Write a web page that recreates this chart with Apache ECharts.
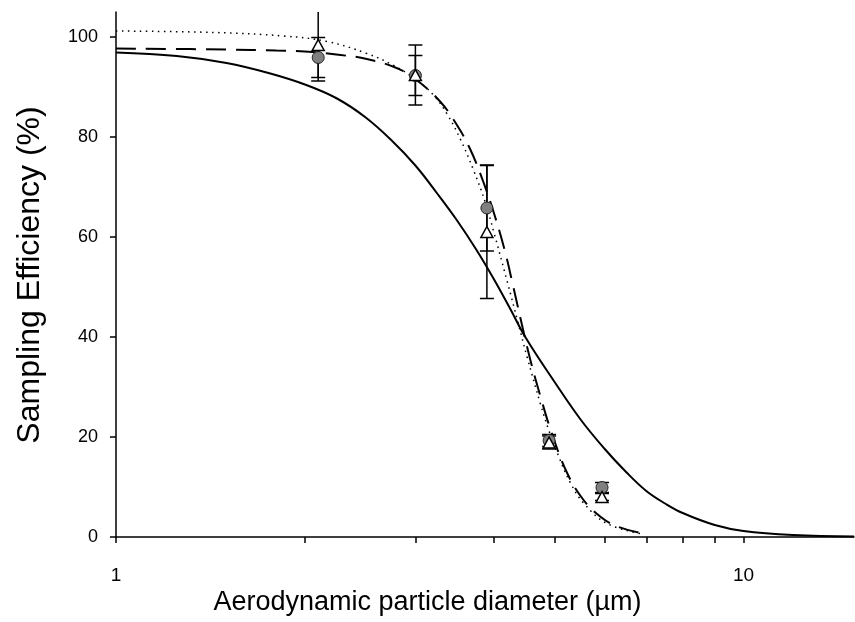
<!DOCTYPE html>
<html>
<head>
<meta charset="utf-8">
<script src="https://cdn.jsdelivr.net/npm/echarts@6/dist/echarts.min.js"></script>
<style>html,body{margin:0;padding:0;background:#fff}#c{width:855px;height:622px}</style>
</head>
<body>
<div id="c"></div>
<script>
// Measured particle diameters (µm)
var diameters = [2.1, 3.0, 3.9, 4.9, 5.95];
// Series A (grey circles)
var circleValues = [95.9, 92.3, 65.8, 19.3, 9.9];
var circleErrors = [4.0, 4.0, 8.6, 1.2, 1.0];
// Series B (open triangles)
var triangleValues = [98.4, 92.4, 61.0, 18.9, 8.0];
var triangleErrors = [7.2, 6.0, 13.3, 1.3, 0.7];

// Fitted curves: [diameter, efficiency]
var solidCurve = [[1.0, 96.9], [1.25, 96.2], [1.5, 94.8], [1.75, 92.8], [2.0, 90.5], [2.25, 87.7], [2.5, 83.9], [2.75, 79.3], [3.0, 74.3], [3.25, 68.7], [3.5, 63.2], [3.75, 57.5], [4.0, 51.6], [4.25, 45.6], [4.5, 39.8], [5.0, 31.0], [5.5, 23.5], [6.0, 17.7], [6.5, 13.0], [7.0, 9.2], [7.5, 6.7], [8.0, 4.8], [9.0, 2.4], [10.0, 1.2], [12.0, 0.4], [15.0, 0.1]];
var dashedCurve = [[1.0, 97.7], [1.5, 97.5], [1.8, 97.3], [2.0, 97.1], [2.28, 96.4], [2.51, 95.6], [2.80, 93.8], [3.02, 91.3], [3.29, 87.0], [3.49, 82.5], [3.67, 77.5], [3.85, 71.0], [4.02, 64.0], [4.17, 57.0], [4.28, 51.0], [4.41, 43.8], [4.57, 35.6], [4.75, 28.0], [4.95, 20.7], [5.24, 12.7], [5.56, 7.4], [5.91, 4.1], [6.29, 2.1], [6.93, 0.7]];
var dottedCurve = [[1.0, 101.2], [1.44, 100.9], [1.85, 100.2], [2.17, 99.1], [2.51, 96.7], [2.77, 94.3], [3.02, 91.3], [3.21, 88.3], [3.37, 84.6], [3.54, 79.5], [3.71, 73.5], [3.88, 66.8], [4.00, 61.0], [4.20, 51.2], [4.38, 42.5], [4.52, 36.0], [4.75, 26.5], [4.89, 21.5], [5.08, 16.0], [5.30, 10.8], [5.56, 6.8], [6.06, 2.7], [6.85, 0.7]];

var xTicks = [1, 2, 3, 4, 5, 6, 7, 8, 9, 10];
var xLabels = [1, 10];
var yTicks = [0, 20, 40, 60, 80, 100];

function errData(vals, errs) {
  return diameters.map(function (d, i) { return [d, vals[i], errs[i]]; });
}
function errRender(params, api) {
  var x = api.value(0), y = api.value(1), e = api.value(2);
  var top = api.coord([x, y + e]);
  var bot = api.coord([x, y - e]);
  var hw = 7;
  var st = { stroke: '#000', lineWidth: 1.5 };
  return {
    type: 'group',
    children: [
      { type: 'line', shape: { x1: top[0], y1: top[1], x2: bot[0], y2: bot[1] }, style: st },
      { type: 'line', shape: { x1: top[0] - hw, y1: top[1], x2: top[0] + hw, y2: top[1] }, style: st },
      { type: 'line', shape: { x1: bot[0] - hw, y1: bot[1], x2: bot[0] + hw, y2: bot[1] }, style: st }
    ]
  };
}

var font = 'Liberation Sans, Arial, sans-serif';
var chart = echarts.init(document.getElementById('c'), null, { renderer: 'canvas' });
chart.setOption({
  animation: false,
  backgroundColor: '#fff',
  grid: { left: 116, right: 1, top: 12, bottom: 85, containLabel: false },
  xAxis: {
    type: 'log', logBase: 10, min: 1, max: 15,
    axisLine: { show: true, lineStyle: { color: '#000', width: 1.5 } },
    axisTick: { show: true, inside: false, length: 6, customValues: xTicks, lineStyle: { color: '#000', width: 1.5 } },
    axisLabel: { customValues: xLabels, color: '#000', fontSize: 19, fontFamily: font, margin: 29 },
    splitLine: { show: false }, minorTick: { show: false }
  },
  yAxis: {
    type: 'value', min: 0, max: 105,
    axisLine: { show: true, lineStyle: { color: '#000', width: 1.5 } },
    axisTick: { show: true, inside: false, length: 6, customValues: yTicks, lineStyle: { color: '#000', width: 1.5 } },
    axisLabel: { customValues: yTicks, color: '#000', fontSize: 18, fontFamily: font, margin: 18 },
    splitLine: { show: false }
  },
  graphic: [
    { type: 'text', left: 'center', top: 589, style: { text: 'Aerodynamic particle diameter (µm)', fill: '#000', font: '27px ' + font } },
    { type: 'text', x: 14, y: 275, rotation: Math.PI / 2, style: { text: 'Sampling Efficiency (%)', fill: '#000', font: '32px ' + font, align: 'center', verticalAlign: 'top' } }
  ],
  series: [
    { type: 'line', data: solidCurve, smooth: 0.4, showSymbol: false, lineStyle: { color: '#000', width: 2 }, z: 2 },
    { type: 'line', data: dashedCurve, smooth: 0.4, showSymbol: false, lineStyle: { color: '#000', width: 2, type: [20, 10] }, z: 2 },
    { type: 'line', data: dottedCurve, smooth: 0.4, showSymbol: false, lineStyle: { color: '#000', width: 1.5, type: [1.5, 4.5] }, z: 2 },
    { type: 'custom', data: errData(circleValues, circleErrors), renderItem: errRender, clip: true, z: 3 },
    { type: 'custom', data: errData(triangleValues, triangleErrors), renderItem: errRender, clip: true, z: 3 },
    { type: 'scatter', data: diameters.map(function (d, i) { return [d, circleValues[i]]; }), symbol: 'circle', symbolSize: 12,
      itemStyle: { color: '#808080', borderColor: '#222', borderWidth: 1, opacity: 1 }, z: 4 },
    { type: 'scatter', data: diameters.map(function (d, i) { return [d, triangleValues[i]]; }), symbol: 'triangle', symbolSize: [12, 11],
      itemStyle: { color: '#fff', borderColor: '#000', borderWidth: 1.5, opacity: 1 }, z: 5 }
  ]
});
</script>
</body>
</html>
